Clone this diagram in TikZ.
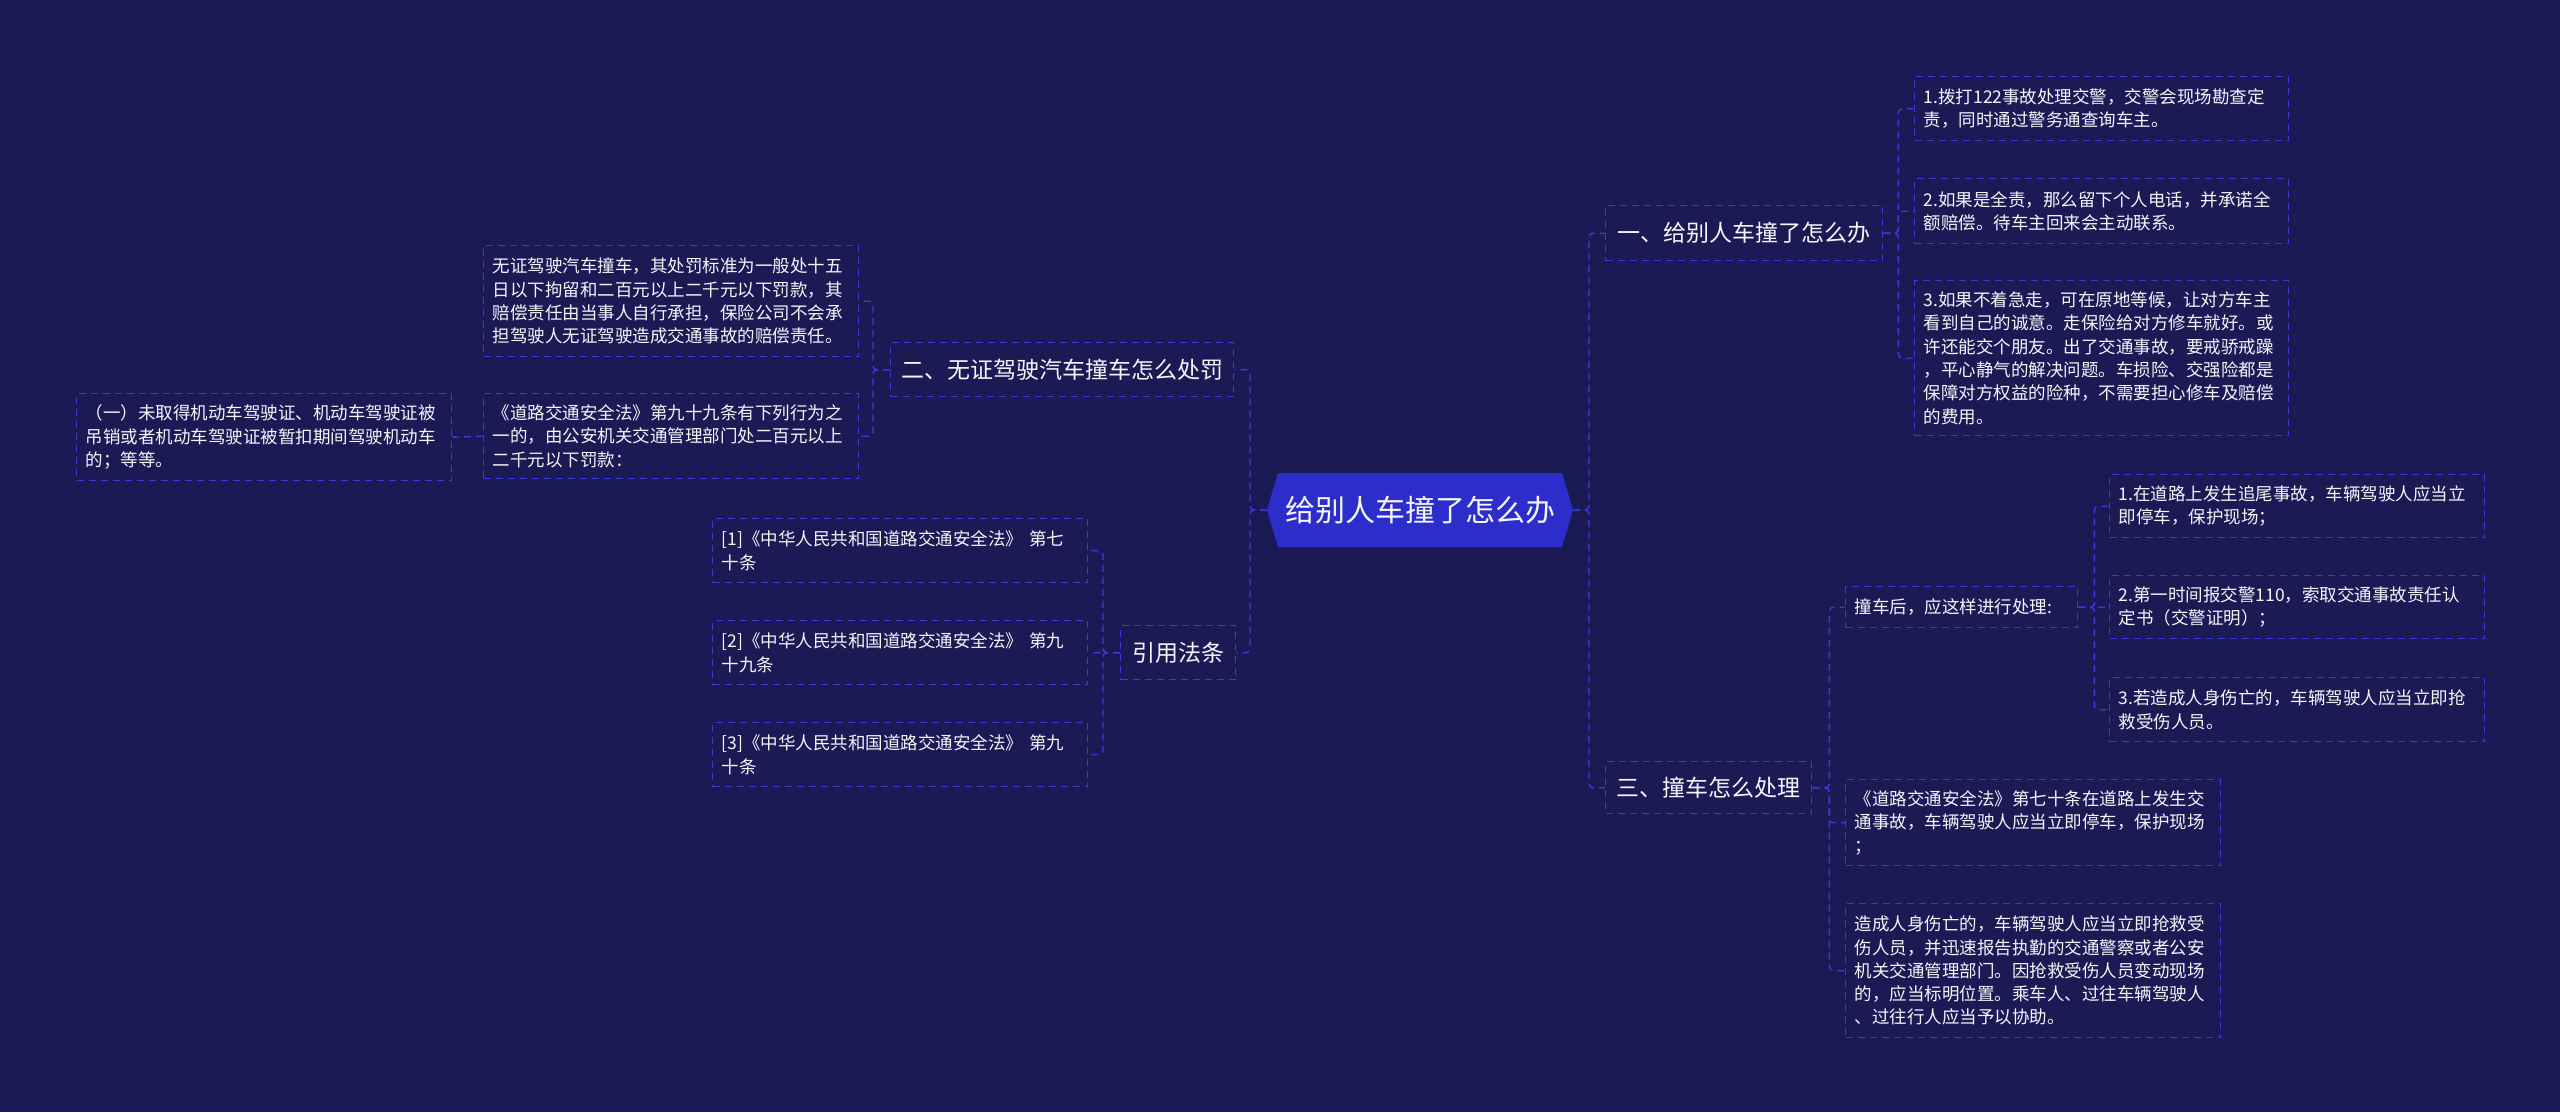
\documentclass[tikz,border=0pt]{standalone}
\usepackage{fontspec}
\setmainfont{Noto Sans CJK SC}
\definecolor{bgc}{RGB}{27,26,85}
\definecolor{lnc}{RGB}{58,58,220}
\definecolor{rootc}{RGB}{44,46,204}
\definecolor{txc}{RGB}{245,245,250}
\begin{document}
\begin{tikzpicture}[x=1pt,y=-1pt,
  box/.style={draw=lnc, line width=1.4pt, dash pattern=on 7pt off 5pt, inner xsep=9pt, inner ysep=0pt,
    anchor=north west, align=left, text=txc, font=\fontsize{17.5}{23.3}\selectfont},
  brbox/.style={draw=lnc, line width=1.4pt, dash pattern=on 7pt off 5pt, inner sep=0pt,
    anchor=north west, align=center, text=txc, font=\fontsize{23}{28}\selectfont},
  conn/.style={draw=lnc, line width=1.4pt, dash pattern=on 7pt off 5pt, rounded corners=4pt}]
\fill[bgc] (0,0) rectangle (2560,1112);
\useasboundingbox (0,0) rectangle (2560,1112);
% root
\fill[rootc] (1267,510) -- (1278,473) -- (1562,473) -- (1573,510) -- (1562,547) -- (1278,547) -- cycle;
\node[text=txc, font=\fontsize{30}{34}\selectfont] (root) at (1420,510) {给别人车撞了怎么办};
\coordinate (rootW) at (1267,510);
\coordinate (rootE) at (1573,510);
% right branches
\node[brbox, minimum width=277pt, minimum height=55pt] (b1) at (1605,205) {一、给别人车撞了怎么办};
\node[brbox, minimum width=206pt, minimum height=52pt] (b3) at (1605,761) {三、撞车怎么处理};
% b1 children
\node[box, text width=356pt, minimum height=64pt] (c1) at (1914,76) {1.拨打122事故处理交警，交警会现场勘查定\\责，同时通过警务通查询车主。};
\node[box, text width=356pt, minimum height=65pt] (c2) at (1914,178) {2.如果是全责，那么留下个人电话，并承诺全\\额赔偿。待车主回来会主动联系。};
\node[box, text width=356pt, minimum height=155pt] (c3) at (1914,280) {3.如果不着急走，可在原地等候，让对方车主\\看到自己的诚意。走保险给对方修车就好。或\\许还能交个朋友。出了交通事故，要戒骄戒躁\\，平心静气的解决问题。车损险、交强险都是\\保障对方权益的险种，不需要担心修车及赔偿\\的费用。};
% b3 children
\node[box, text width=214pt, minimum height=41pt] (d1) at (1845,586) {撞车后，应这样进行处理:};
\node[box, text width=357pt, minimum height=86pt] (d2) at (1845,779) {《道路交通安全法》第七十条在道路上发生交\\通事故，车辆驾驶人应当立即停车，保护现场\\；};
\node[box, text width=357pt, minimum height=134pt] (d3) at (1845,903) {造成人身伤亡的，车辆驾驶人应当立即抢救受\\伤人员，并迅速报告执勤的交通警察或者公安\\机关交通管理部门。因抢救受伤人员变动现场\\的，应当标明位置。乘车人、过往车辆驾驶人\\、过往行人应当予以协助。};
% d1 children
\node[box, text width=357pt, minimum height=63pt] (e1) at (2109,474) {1.在道路上发生追尾事故，车辆驾驶人应当立\\即停车，保护现场；};
\node[box, text width=357pt, minimum height=63pt] (e2) at (2109,575) {2.第一时间报交警110，索取交通事故责任认\\定书（交警证明）；};
\node[box, text width=357pt, minimum height=64pt] (e3) at (2109,677) {3.若造成人身伤亡的，车辆驾驶人应当立即抢\\救受伤人员。};
% left branches
\node[brbox, minimum width=343pt, minimum height=54pt] (b2) at (890,342) {二、无证驾驶汽车撞车怎么处罚};
\node[brbox, minimum width=115pt, minimum height=54pt] (law) at (1120,625) {引用法条};
% b2 children
\node[box, text width=357pt, minimum height=111pt] (ca) at (483,245) {无证驾驶汽车撞车，其处罚标准为一般处十五\\日以下拘留和二百元以上二千元以下罚款，其\\赔偿责任由当事人自行承担，保险公司不会承\\担驾驶人无证驾驶造成交通事故的赔偿责任。};
\node[box, text width=357pt, minimum height=85pt] (cb) at (483,393) {《道路交通安全法》第九十九条有下列行为之\\一的，由公安机关交通管理部门处二百元以上\\二千元以下罚款：};
\node[box, text width=357pt, minimum height=87pt] (cc) at (76,393) {（一）未取得机动车驾驶证、机动车驾驶证被\\吊销或者机动车驾驶证被暂扣期间驾驶机动车\\的；等等。};
% law children
\node[box, text width=357pt, minimum height=64pt] (l1) at (712,518) {[1]《中华人民共和国道路交通安全法》~第七\\十条};
\node[box, text width=357pt, minimum height=64pt] (l2) at (712,620) {[2]《中华人民共和国道路交通安全法》~第九\\十九条};
\node[box, text width=357pt, minimum height=64pt] (l3) at (712,722) {[3]《中华人民共和国道路交通安全法》~第九\\十条};
% connectors
\draw[conn] (rootE) -- ++(16,0) |- (b1.west);
\draw[conn] (rootE) -- ++(16,0) |- (b3.west);
\draw[conn] (rootW) -- ++(-17,0) |- (b2.east);
\draw[conn] (rootW) -- ++(-17,0) |- (law.east);
\foreach \c in {c1,c2,c3} \draw[conn] (b1.east) -- ++(15,0) |- (\c.west);
\foreach \c in {d1,d2,d3} \draw[conn] (b3.east) -- ++(17,0) |- (\c.west);
\foreach \c in {e1,e2,e3} \draw[conn] (d1.east) -- ++(16,0) |- (\c.west);
\foreach \c in {ca,cb} \draw[conn] (b2.west) -- ++(-17,0) |- (\c.east);
\foreach \c in {l1,l2,l3} \draw[conn] (law.west) -- ++(-17,0) |- (\c.east);
\draw[conn] (cb.west) -- (cc.east);
\end{tikzpicture}
\end{document}
